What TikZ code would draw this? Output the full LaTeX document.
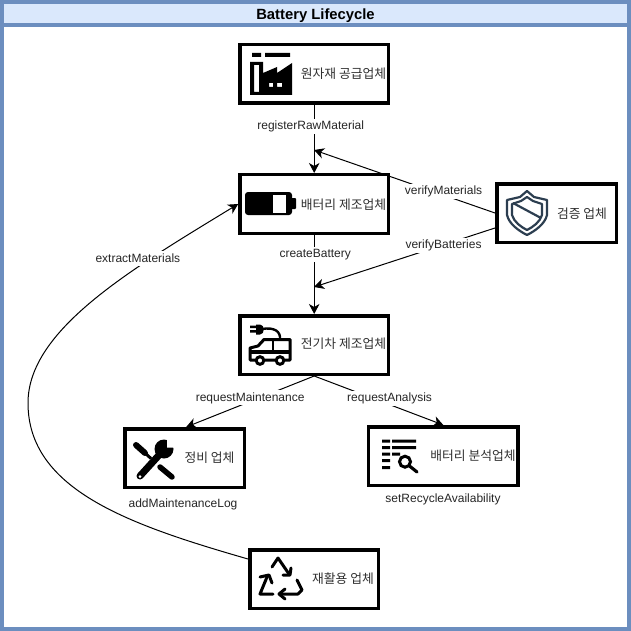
\documentclass[tikz,border=0pt]{standalone}
\usepackage{fontspec}
\setmainfont{Liberation Sans}
\newfontfamily\krfont{Noto Sans CJK KR}
\usetikzlibrary{arrows.meta}
\definecolor{laneline}{HTML}{6C8EBF}
\definecolor{lanefill}{HTML}{DAE8FC}
\definecolor{shieldcol}{HTML}{2C3E50}
\definecolor{krtext}{HTML}{303030}
\tikzset{
  actor/.style={draw=black,line width=3.5pt,fill=white,inner sep=0pt,minimum height=58.5pt},
  krlabel/.style={font=\krfont\fontsize{12.8}{14}\selectfont,text=krtext,inner sep=0pt},
  msg/.style={font=\fontsize{12}{14}\selectfont,fill=white,inner sep=1pt,minimum height=15pt,text=black!85},
  plainmsg/.style={font=\fontsize{12}{14}\selectfont,inner sep=0pt,text=black!85},
  flow/.style={draw=black,line width=1pt,-{Stealth[length=10pt,width=10.5pt,inset=3pt]}},
  thickicon/.style={draw=black,line width=3pt,line cap=round,line join=round},
}
\begin{document}
\begin{tikzpicture}[x=1pt,y=-1pt]
\useasboundingbox (0,0) rectangle (631,631);
% swimlane
\node[draw=laneline,line width=4pt,fill=white,minimum width=627pt,minimum height=627pt,inner sep=0pt] (lane) at (315.5,315.5) {};
\node[draw=laneline,line width=4pt,fill=lanefill,minimum width=627pt,minimum height=23.3pt,inner sep=0pt] (header) at (315.5,13.7) {};
\node[font=\bfseries\fontsize{14.8}{16}\selectfont,inner sep=0pt,anchor=base] (title) at (315.5,19.6) {Battery Lifecycle};
% actors
\node[actor,minimum width=148.5pt] (supplier) at (314.2,74) {};
\node[actor,minimum width=148.5pt] (maker) at (314.2,204) {};
\node[actor,minimum width=119.5pt] (verifier) at (556.5,213) {};
\node[actor,minimum width=148.5pt] (ev) at (314.2,345) {};
\node[actor,minimum width=119.5pt] (service) at (184.7,458) {};
\node[actor,minimum width=149.5pt] (analysis) at (443.3,456) {};
\node[actor,minimum width=128.5pt] (recycler) at (314,579) {};
% texts
\node[krlabel] (t1) at (343.5,73.5) {원자재 공급업체};
\node[krlabel] (t2) at (343.5,204.5) {배터리 제조업체};
\node[krlabel] (t3) at (582,213.5) {검증 업체};
\node[krlabel] (t4) at (343.5,343.5) {전기차 제조업체};
\node[krlabel] (t5) at (209.5,457.5) {정비 업체};
\node[krlabel] (t6) at (473,455.5) {배터리 분석업체};
\node[krlabel] (t7) at (343,578.5) {재활용 업체};
% junction points on the vertical flows
\coordinate (joinA) at (314,150);
\coordinate (joinB) at (314,287);
% connectors
\draw[flow] (supplier.south) -- node[msg,pos=0.31,xshift=-3.5pt] (m1) {registerRawMaterial} (maker.north);
\draw[flow] (maker.south) -- node[msg,pos=0.25,xshift=1pt] (m2) {createBattery} (ev.north);
\draw[flow] (verifier.west) -- node[msg,pos=0.29,xshift=1pt,yshift=3pt] (m3) {verifyMaterials} (joinA);
\draw[flow] ([yshift=-15pt]verifier.west) -- node[msg,pos=0.29,xshift=1pt] (m4) {verifyBatteries} (joinB);
\draw[flow] (ev.south) -- node[msg,pos=0.43,xshift=-9pt] (m5) {requestMaintenance} ([xshift=1.5pt]service.north);
\draw[flow] (ev.south) -- node[msg,pos=0.46,xshift=16pt] (m6) {requestAnalysis} (analysis.north);
\draw[flow] ([yshift=20pt]recycler.west) .. controls (130,525) and (28,490) .. (28,403) .. controls (28,330) and (130,270) .. node[msg,pos=0.72,xshift=-13pt] (m7) {extractMaterials} (maker.west);
\node[plainmsg] (m8) at (183,504) {addMaintenanceLog};
\node[plainmsg] (m9) at (443,499) {setRecycleAvailability};
% factory icon
\fill[black,even odd rule] (250,62)--(263,62)--(263,73)--(277,67)--(277,73)--(292,63)--(292,95)--(250,95)--cycle
  (254,65) rectangle (259,92) (269,83) rectangle (273,87) (277,83) rectangle (282,87);
\fill[black] (252,53) rectangle (261,57) (265,53) rectangle (290,57);
% battery icon
\fill[black,rounded corners=3pt] (245,192) rectangle (292,215);
\fill[black,rounded corners=1pt] (290,198) rectangle (296,209);
\fill[white] (273,194.5) rectangle (286,213);
% shield icon
\draw[shieldcol,line width=2.2pt,line join=round] (527,191)--(534,197)--(547,200)--(547,215)..controls (545,224) and (535,231) ..(527,235)..controls (519,231) and (509,224) ..(507,215)--(507,200)--(520,197)--cycle;
\draw[shieldcol,line width=2.2pt,line join=round] (527,197)--(533,201)--(542,204)--(542,215)..controls (540,222) and (533,227) ..(527,230)..controls (521,227) and (514,222) ..(512,215)--(512,204)--(521,201)--cycle;
\draw[shieldcol,line width=2.2pt] (513,203)--(541,218);
% EV icon
\fill[black] (250,325.5) rectangle (257,328) (250,330) rectangle (257,332.5);
\fill[black] (256,324.5) -- (260,324.5) .. controls (265,324.5) and (265,334.5) .. (260,334.5) -- (256,334.5) -- cycle;
\draw[black,line width=2.4pt] (262,329) .. controls (274,327) and (281,331) .. (280,340);
\draw[thickicon,fill=white] (250,360)--(250,348)--(258,346)--(264,339.5)--(290,339.5)--(290,360)--cycle;
\fill[black] (250,350) rectangle (290,353.5);
\draw[black,line width=2.6pt] (273,340)--(273,350);
\draw[black,line width=3pt,fill=white] (260,360.5) circle[radius=3.8pt] (280,360.5) circle[radius=3.8pt];
% tools icon
\draw[black,line width=6pt,line cap=round] (136,445)--(145,453);
\draw[black,line width=3pt] (145,453)--(151,458.5);
\draw[black,line width=5.5pt,line cap=round] (160,467)--(172,477);
\draw[black,line width=7pt,line cap=round] (140,476)--(160,454);
\fill[black] (164,449) circle[radius=9.5pt];
\fill[white] (167,447.5)--(167,437)--(178,437)--(176,447.5)--cycle;
\fill[white] (140,476.5) circle[radius=1.5pt];
% analysis icon
\fill[black] (382,439.5) rectangle (390,442.5) (392,439.5) rectangle (416,442.5)
  (382,446) rectangle (390,449) (392,446) rectangle (416,449)
  (382,452.5) rectangle (390,455.5) (392,452.5) rectangle (400,455.5)
  (382,459) rectangle (390,462) (382,466) rectangle (390,469);
\draw[black,line width=3pt] (405,461.7) circle[radius=5.5pt];
\draw[black,line width=3.2pt,line cap=round] (409.5,466)--(417,472);
% recycle icon
\draw[thickicon] (272,567)--(278,558)--(289,574);
\draw[thickicon] (283,575)--(290,575)--(291,568);
\draw[thickicon] (273,594)--(260,594)--(267,577);
\draw[thickicon] (260,577)--(269,575)--(272,583);
\draw[thickicon] (297,580)--(302,590)--(298,594)--(280,594);
\draw[thickicon] (285,589)--(279,594)--(285,599);
\end{tikzpicture}
\end{document}
